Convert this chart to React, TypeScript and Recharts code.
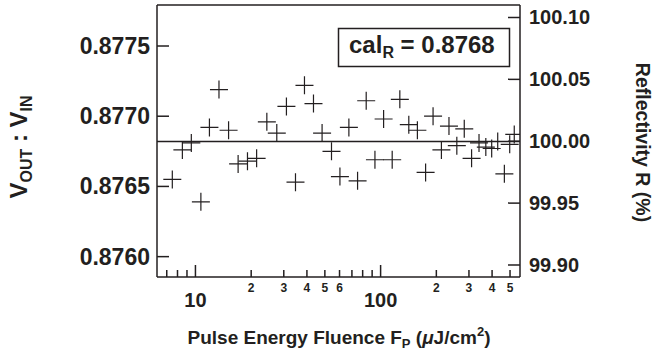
import { ScatterChart, Scatter, XAxis, YAxis, ReferenceLine } from 'recharts';

const fluence = [
  7.5, 8.5, 9.5, 10.7, 11.9, 13.4, 15.1, 17.0, 19.1, 21.4, 24.3, 27.5, 31.0, 34.7, 38.8, 43.4, 48.3, 54.3, 60.3, 67.4,
  75.1, 83.6, 93.2, 103.8, 115.5, 127, 142, 158, 175, 192, 213, 234, 258, 283, 310, 340, 370, 398, 429, 466, 498, 527,
];
const ratio = [
  0.87655, 0.87676, 0.87681, 0.87639, 0.87692, 0.87719, 0.8769, 0.87666, 0.87668, 0.8767, 0.87696, 0.87688, 0.87707,
  0.87653, 0.87722, 0.87709, 0.87688, 0.87675, 0.87657, 0.87692, 0.87654, 0.87711, 0.87669, 0.87698, 0.87669, 0.87712,
  0.87694, 0.8769, 0.8766, 0.877, 0.87676, 0.87693, 0.87679, 0.87691, 0.8767, 0.87681, 0.87678, 0.87677, 0.87682,
  0.87659, 0.8768, 0.87687,
];
const xTicks = [7, 8, 9, 10, 20, 30, 40, 50, 60, 70, 80, 90, 100, 200, 300, 400, 500];
const xMajor = [10, 100];
const xMinorLabels: Record<number, string> = { 20: '2', 30: '3', 40: '4', 50: '5', 60: '6', 200: '2', 300: '3', 400: '4', 500: '5' };
const leftTicks = [0.876, 0.8765, 0.877, 0.8775];
const rightTicks = [99.9, 99.95, 100.0, 100.05, 100.1];
const calR = 0.87682;

const data = fluence.map((f, i) => ({ f, r: ratio[i] }));

const INK = '#231f20';
const FONT = '"Liberation Sans", Arial, Helvetica, sans-serif';

function BottomTick(p: any) {
  const v = p.payload.value;
  const major = xMajor.includes(v);
  return (
    <g>
      <line x1={p.x} x2={p.x} y1={p.y} y2={p.y - (major ? 12 : 7)} stroke={INK} strokeWidth={1.5} />
      {major ? (
        <text x={p.x} y={p.y + 30} textAnchor="middle" fontSize={20} fontWeight="bold" fontFamily={FONT} fill={INK}>
          {v}
        </text>
      ) : xMinorLabels[v] ? (
        <text x={p.x} y={p.y + 15} textAnchor="middle" fontSize={12} fontWeight="bold" fontFamily={FONT} fill={INK}>
          {xMinorLabels[v]}
        </text>
      ) : null}
    </g>
  );
}

function TopTick(p: any) {
  const major = xMajor.includes(p.payload.value);
  return <line x1={p.x} x2={p.x} y1={p.y} y2={p.y + (major ? 12 : 7)} stroke={INK} strokeWidth={1.5} />;
}

function LeftTick(p: any) {
  return (
    <g>
      <line x1={p.x} x2={p.x + 12} y1={p.y} y2={p.y} stroke={INK} strokeWidth={1.5} />
      <text x={p.x - 7} y={p.y + 8} textAnchor="end" fontSize={23} fontWeight="bold" fontFamily={FONT} fill={INK}>
        {p.payload.value.toFixed(4)}
      </text>
    </g>
  );
}

function RightTick(p: any) {
  return (
    <g>
      <line x1={p.x} x2={p.x - 12} y1={p.y} y2={p.y} stroke={INK} strokeWidth={1.5} />
      <text x={p.x + 9} y={p.y + 7} textAnchor="start" fontSize={20} fontWeight="bold" fontFamily={FONT} fill={INK}>
        {p.payload.value.toFixed(2)}
      </text>
    </g>
  );
}

function Cross(p: any) {
  const { cx, cy } = p;
  return <path d={`M${cx - 9},${cy}H${cx + 9}M${cx},${cy - 9}V${cy + 9}`} stroke={INK} strokeWidth={1.2} fill="none" />;
}

export default function App() {
  return (
    <div style={{ position: 'absolute', left: 0, top: 0, width: 655, height: 357, background: '#fff' }}>
      <ScatterChart width={655} height={357} margin={{ top: 0, right: 0, bottom: 0, left: 0 }}>
        <XAxis
          xAxisId="b"
          dataKey="f"
          type="number"
          scale="log"
          domain={[6.2, 566]}
          allowDataOverflow
          ticks={xTicks}
          interval={0}
          tick={BottomTick}
          tickLine={false}
          tickSize={0}
          tickMargin={0}
          height={80}
          axisLine={{ stroke: INK, strokeWidth: 1.5 }}
        />
        <XAxis
          xAxisId="t"
          orientation="top"
          type="number"
          scale="log"
          domain={[6.2, 566]}
          allowDataOverflow
          ticks={xTicks}
          interval={0}
          tick={TopTick}
          tickLine={false}
          tickSize={0}
          tickMargin={0}
          height={5}
          axisLine={{ stroke: INK, strokeWidth: 1.5 }}
        />
        <YAxis
          yAxisId="l"
          dataKey="r"
          type="number"
          domain={[0.875855, 0.877792]}
          allowDataOverflow
          ticks={leftTicks}
          interval={0}
          tick={LeftTick}
          tickLine={false}
          tickSize={0}
          tickMargin={0}
          width={157}
          axisLine={{ stroke: INK, strokeWidth: 1.5 }}
        />
        <YAxis
          yAxisId="r"
          orientation="right"
          type="number"
          domain={[99.8903, 100.1101]}
          allowDataOverflow
          ticks={rightTicks}
          interval={0}
          tick={RightTick}
          tickLine={false}
          tickSize={0}
          tickMargin={0}
          width={135}
          axisLine={{ stroke: INK, strokeWidth: 1.5 }}
        />
        <ReferenceLine xAxisId="b" yAxisId="l" y={calR} stroke={INK} strokeWidth={1.5} />
        <Scatter xAxisId="b" yAxisId="l" data={data} shape={Cross} isAnimationActive={false} />
      </ScatterChart>
      <svg width={655} height={357} style={{ position: 'absolute', left: 0, top: 0, pointerEvents: 'none' }}>
        <g fontFamily={FONT} fontWeight="bold" fill={INK}>
          <rect x={338.5} y={28.5} width={171} height={38} fill="#fff" stroke={INK} strokeWidth={1.5} />
          <text x={349} y={53} fontSize={24}>
            cal<tspan fontSize={16} dy={5}>R</tspan>
            <tspan dy={-5}> = {calR.toFixed(4).slice(0, 6)}</tspan>
          </text>
          <text x={339} y={343.5} fontSize={19} textAnchor="middle">
            Pulse Energy Fluence F<tspan fontSize={13} dy={4}>P</tspan>
            <tspan dy={-4}> (</tspan>
            <tspan fontStyle="italic">μ</tspan>J/cm<tspan fontSize={13} dy={-8}>2</tspan>
            <tspan dy={8}>)</tspan>
          </text>
          <text transform="translate(27,147) rotate(-90)" fontSize={24} textAnchor="middle">
            V<tspan fontSize={16} dy={5}>OUT</tspan>
            <tspan dy={-5}> : V</tspan>
            <tspan fontSize={16} dy={5}>IN</tspan>
          </text>
          <text transform="translate(636,142.5) rotate(90)" fontSize={19.5} textAnchor="middle">
            Reflectivity R (%)
          </text>
        </g>
      </svg>
    </div>
  );
}
